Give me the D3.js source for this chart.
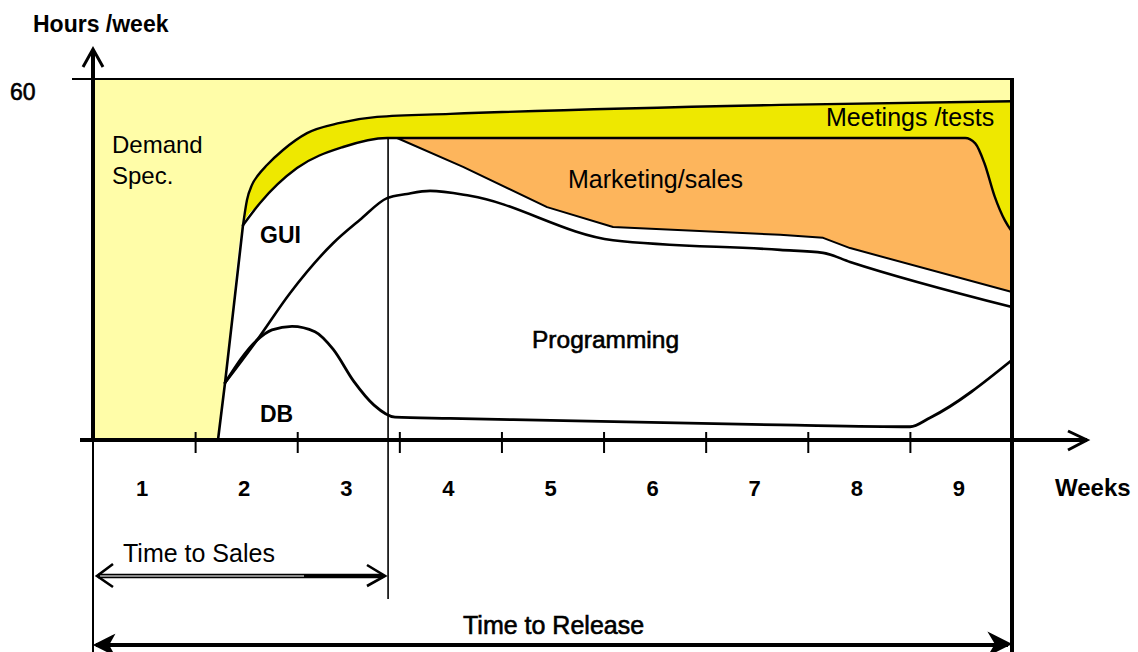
<!DOCTYPE html>
<html>
<head>
<meta charset="utf-8">
<script src="https://cdn.jsdelivr.net/npm/d3@7"></script>
<style>
  html, body { margin: 0; padding: 0; background: #fff; }
  svg { display: block; font-family: "Liberation Sans", Arial, sans-serif; }
</style>
</head>
<body>
<svg id="chart" width="1138" height="652"></svg>
<script>
// ---------- data (weeks, hours/week) ----------
const weeks = ["1", "2", "3", "4", "5", "6", "7", "8", "9"];
const tickWeeks = [1, 2, 3, 4, 5, 6, 7, 8];
const yMaxLabel = "60";
const timeToSalesWeek = 2.88;

const leftEdge = [[1.224, 0], [1.293, 9.5], [1.469, 35.7]];
const meetingsTop = [[1.469, 35.7], [1.508, 39.9], [1.557, 42.4], [1.616, 44.0], [1.704, 45.7],
  [1.861, 48.2], [2.096, 51.0], [2.419, 52.7], [2.782, 53.7], [3.497, 54.2], [6.729, 55.7], [9, 56.3]];
const meetingsBottom = [[1.469, 35.7], [1.636, 39.4], [1.998, 45.2], [2.449, 48.7], [2.880, 50.2],
  [8.541, 50.2], [8.640, 49.3], [8.730, 46.0], [8.830, 40.5], [8.930, 36.5], [9, 34.6]];
const marketingBottom = [[2.880, 50.2], [2.978, 50.2], [3.624, 45.4], [4.447, 38.7], [5.093, 35.4],
  [6.729, 34.1], [7.150, 33.6], [7.414, 31.9], [9, 24.6]];
const programmingTop = [[1.293, 9.5], [1.606, 16.6], [1.929, 24.4], [2.351, 32.7], [2.615, 36.6],
  [2.880, 40.2], [3.075, 40.9], [3.301, 41.4], [3.692, 40.6], [5.093, 33.2], [6.729, 31.6],
  [7.150, 31.1], [7.414, 29.6], [9, 22.1]];
const dbTop = [[1.293, 9.5], [1.606, 16.6], [1.753, 18.3], [1.949, 18.9], [2.174, 18.0],
  [2.351, 15.1], [2.556, 9.7], [2.752, 5.8], [2.958, 3.8], [3.497, 3.6], [6.729, 2.5],
  [8.002, 2.2], [8.198, 3.7], [9, 13.3]];

// ---------- setup ----------
const svg = d3.select("#chart");
const x = d3.scaleLinear().domain([0, 9]).range([93, 1012]);
const y = d3.scaleLinear().domain([0, 60]).range([440, 79]);

const C = { pale: "#FFFDA8", yellow: "#EEE800", orange: "#FDB55C" };

const areaUnder = d3.area().x(d => x(d[0])).y0(y(0)).y1(d => y(d[1])).curve(d3.curveMonotoneX);
const areaUnderLin = d3.area().x(d => x(d[0])).y0(y(0)).y1(d => y(d[1]));
const line = d3.line().x(d => x(d[0])).y(d => y(d[1])).curve(d3.curveMonotoneX);
const lineLin = d3.line().x(d => x(d[0])).y(d => y(d[1]));

// background (demand spec)
svg.append("rect").attr("x", x(0)).attr("y", y(60)).attr("width", x(9) - x(0)).attr("height", y(0) - y(60))
  .attr("fill", C.pale);

const leftPlusTop = leftEdge.slice(0, 2).concat(meetingsTop);
const leftPlusBottom = leftEdge.slice(0, 2).concat(meetingsBottom);
svg.append("path").attr("d", areaUnder(leftPlusTop)).attr("fill", C.yellow);
svg.append("path").attr("d", areaUnder(leftPlusBottom)).attr("fill", "#fff");
svg.append("path").attr("d", areaUnder(meetingsBottom.filter(d => d[0] >= 2.88))).attr("fill", C.orange);
svg.append("path").attr("d", areaUnderLin(marketingBottom)).attr("fill", "#fff");

// boundary lines
const stroke = (d, gen, w) => svg.append("path").attr("d", gen(d)).attr("fill", "none")
  .attr("stroke", "#000").attr("stroke-width", w).attr("stroke-linejoin", "round").attr("stroke-linecap", "round");
stroke(leftEdge, lineLin, 2.6);
stroke(meetingsTop, line, 2.4);
stroke(meetingsBottom, line, 2.4);
stroke(marketingBottom, lineLin, 2);
stroke(programmingTop, line, 2.6);
stroke(dbTop, line, 2.8);

// frame lines
svg.append("line").attr("x1", 72).attr("x2", x(9)).attr("y1", y(60)).attr("y2", y(60))
  .attr("stroke", "#000").attr("stroke-width", 2);
svg.append("line").attr("x1", x(9)).attr("x2", x(9)).attr("y1", y(60) - 1).attr("y2", 652)
  .attr("stroke", "#000").attr("stroke-width", 4);
svg.append("line").attr("x1", x(timeToSalesWeek) + 1).attr("x2", x(timeToSalesWeek) + 1).attr("y1", y(50.2)).attr("y2", 599)
  .attr("stroke", "#000").attr("stroke-width", 1.6);
svg.append("line").attr("x1", x(0)).attr("x2", x(0)).attr("y1", 440).attr("y2", 652)
  .attr("stroke", "#000").attr("stroke-width", 2);

// y axis with arrow
svg.append("line").attr("x1", x(0)).attr("x2", x(0)).attr("y1", 50).attr("y2", 442)
  .attr("stroke", "#000").attr("stroke-width", 4);
svg.append("path").attr("d", `M${x(0) - 10},67 L${x(0)},49 L${x(0) + 10},67`).attr("fill", "none")
  .attr("stroke", "#000").attr("stroke-width", 3);

// x axis with arrow and ticks
svg.append("line").attr("x1", 80).attr("x2", 1087).attr("y1", y(0)).attr("y2", y(0))
  .attr("stroke", "#000").attr("stroke-width", 4);
svg.append("path").attr("d", `M1068,431 L1087,440 L1068,450`).attr("fill", "none")
  .attr("stroke", "#000").attr("stroke-width", 3);
const axis = d3.axisBottom(x).tickValues(tickWeeks).tickSize(21).tickFormat("");
const gAxis = svg.append("g").attr("transform", `translate(0,${y(0) - 8})`).call(axis);
gAxis.select(".domain").remove();
gAxis.selectAll(".tick line").attr("stroke", "#000").attr("stroke-width", 2);

// week labels
svg.selectAll("text.week").data(weeks).enter().append("text").attr("class", "week")
  .attr("x", (d, i) => x(i + 0.5) - 2).attr("y", 496).attr("text-anchor", "middle")
  .attr("font-size", 22).attr("font-weight", "bold").text(d => d);

const txt = (s, tx, ty, size, weight, extra) => {
  const t = svg.append("text").attr("x", tx).attr("y", ty).attr("font-size", size)
    .attr("font-weight", weight || "normal").attr("fill", "#000").text(s);
  if (extra) t.attr("stroke", "#000").attr("stroke-width", extra);
  return t;
};
txt("Hours /week", 33, 32, 23, "bold");
txt(yMaxLabel, 10, 100, 23, "normal", 0.6);
txt("Weeks", 1055, 496, 24, "bold");
txt("Demand", 112, 153, 24);
txt("Spec.", 112, 184, 24);
txt("GUI", 260, 243, 23, "bold");
txt("DB", 260, 422, 23, "bold");
txt("Programming", 532, 348, 24.5, "normal", 0.6);
txt("Marketing/sales", 568, 188, 25);
txt("Meetings /tests", 826, 126, 25);
txt("Time to Sales", 123, 562, 25);
txt("Time to Release", 463, 634, 25, "normal", 0.6);

// Time to Sales arrow
svg.append("line").attr("x1", 98).attr("x2", x(timeToSalesWeek) - 4).attr("y1", 576).attr("y2", 576)
  .attr("stroke", "#000").attr("stroke-width", 4.5);
svg.append("line").attr("x1", 100).attr("x2", 304).attr("y1", 576).attr("y2", 576)
  .attr("stroke", "#8a8a8a").attr("stroke-width", 1.8);
svg.append("path").attr("d", "M113,564 L97,576 L113,587").attr("fill", "none").attr("stroke", "#000").attr("stroke-width", 2.6);
svg.append("path").attr("d", `M367,565 L${x(timeToSalesWeek) - 2},576 L367,586`).attr("fill", "none").attr("stroke", "#000").attr("stroke-width", 2.6);

// Time to Release arrow
svg.append("line").attr("x1", 96).attr("x2", x(9) - 4).attr("y1", 645).attr("y2", 645)
  .attr("stroke", "#000").attr("stroke-width", 4);
svg.append("path").attr("d", "M113,636 L95,645 L113,654 L108,645 Z").attr("fill", "#000").attr("stroke", "#000").attr("stroke-width", 2);
svg.append("path").attr("d", `M990,634 L${x(9) - 2},644 L990,654 L996,644 Z`).attr("fill", "#000").attr("stroke", "#000").attr("stroke-width", 2);
</script>
</body>
</html>
